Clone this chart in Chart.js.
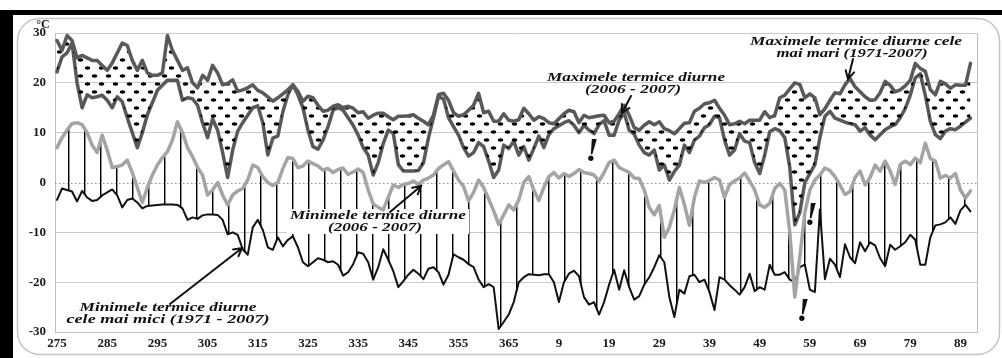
<!DOCTYPE html>
<html>
<head>
<meta charset="utf-8">
<script src="https://cdn.jsdelivr.net/npm/chart.js@4"></script>
<style>
  html, body { margin: 0; padding: 0; background: #fff; }
  #chart { display: block; }
</style>
</head>
<body>
<canvas id="chart" width="1002" height="358"></canvas>
<script>
// day-of-year labels, one every 10 days (275 ... 366, then 1 ... 91)
var tickLabels = ['275', '285', '295', '305', '315', '325', '335', '345', '355', '365',
                  '9', '19', '29', '39', '49', '59', '69', '79', '89'];

// highest daily maxima 1971-2007
var maxRecord = [
  28.5, 26.5, 29.5, 28.5, 25, 25.5, 25, 24.5, 24.5, 23.5,
  22.5, 24, 26, 28, 27.5, 24.5, 22.5, 24.5, 22, 21.5,
  21.5, 22, 29.5, 26.5, 24.5, 22.5, 23, 20, 19, 21.5,
  20.5, 23.5, 22, 19.6, 19.9, 20.6, 18.3, 18.6, 19, 19.6,
  18.5, 18, 17.2, 16.3, 17, 17.8, 18.6, 19.6, 18.3, 16.3,
  17.3, 17, 15.5, 14.3, 14.5, 15.3, 15.6, 15, 15.3, 14.9,
  14, 14.2, 12.9, 13.5, 13.9, 13.9, 13.2, 12.6, 13.3, 13.3,
  13.4, 13.6, 12.9, 12.3, 11.6, 13.5, 17.6, 17.9, 16.5, 14,
  13.3, 13.6, 14.5, 15.5, 17.9, 14, 14.3, 12.3, 12.3, 13.8,
  12.5, 12.3, 12.6, 14.9, 13.8, 12.5, 13.2, 12.8, 12, 11.8,
  12.8, 13.8, 14.5, 14.2, 12, 13.5, 13, 13.2, 13.4, 13.5,
  12, 12.3, 13.8, 15.5, 13.5, 11, 10.5, 11.5, 12.2, 11.6,
  12.2, 10.8, 10.4, 9.8, 10.8, 11.9, 12, 14.3, 14.9, 15.8,
  16, 16.5, 14.9, 13.5, 11.6, 11.8, 12.3, 11.8, 12.5, 12.5,
  12.5, 14.2, 13, 13.5, 17, 17.5, 18.8, 20, 19.7, 17,
  17.8, 17, 13.6, 14.8, 16.5, 18, 17.8, 19.6, 20.9, 19.2,
  18.2, 17.2, 16.5, 16.6, 18, 20.3, 19.5, 18.2, 18.6, 19.4,
  20.5, 23.9, 22.9, 22.3, 18.6, 17.6, 20.3, 19.8, 18.9, 19.6,
  19.5, 19.5, 23.9
];

// daily maxima 2006 - 2007
var maxSeason = [
  22.2, 25.2, 26, 28, 20, 15, 17.6, 17, 17.2, 17.5,
  16.5, 15, 17.2, 16.2, 13, 10, 7, 10, 13.6, 16,
  18.5, 19.5, 20.5, 20.5, 20.5, 16.5, 17, 16.8, 15.5, 12,
  9, 12.8, 10.5, 6, 1, 6.5, 10.3, 12, 13.5, 15,
  15.4, 12, 5.5, 8.9, 9.3, 14.2, 17.6, 19.6, 17.6, 15,
  10.5, 7.2, 6.7, 8.5, 11.2, 14.5, 15, 14.5, 13, 11.5,
  9.5, 7, 5.5, 1.5, 4, 7.8, 10.5, 9.9, 3.6, 2.3,
  2.3, 2.3, 2.4, 3.9, 8.9, 13, 17.2, 16.8, 13, 11.2,
  9.5, 7, 5.3, 6, 8, 7.2, 4.3, 1, 2.5, 7.5,
  6.8, 8.3, 5.5, 7.2, 4.5, 6.8, 9.3, 7, 9.6, 10.8,
  11.4, 12, 12.4, 11.5, 10, 11.5, 10.5, 9.8, 11.6, 12.4,
  9.5, 9.5, 12.5, 14, 10.5, 9.7, 7.5, 6, 5.5, 6.5,
  2.5, 3.5, 0.5, 2.2, 3.5, 7.5, 6, 8.5, 9.3, 11,
  11.6, 13.3, 13, 8.5, 5.5, 6.5, 9.8, 8.3, 8, 4,
  1.8, 5.5, 10.2, 10.8, 10.4, 9, 3, -8.5, -6, 0,
  1.8, 3.6, 9, 13.3, 14.3, 12.9, 12.5, 12.1, 11.8, 11.6,
  10.3, 11, 9.5, 8.6, 9.6, 10.6, 11.2, 11.6, 13, 14.8,
  17.5, 21, 21.8, 17.5, 12.3, 9.6, 8.8, 10.3, 10.8, 10.6,
  11.3, 12.1, 12.9
];

// daily minima 2006 - 2007
var minSeason = [
  7, 9, 10.5, 11.8, 12, 11.6, 10, 7.5, 6, 9.5,
  6.5, 3, 3.2, 3.5, 4.5, 2, -1, -4, -1, 1.5,
  3.5, 5, 6.2, 8.5, 12.2, 10, 7, 5.2, 3, 1.5,
  -2.5, -1.5, 0, -2.5, -4.5, -2.5, -1.7, -1.2, 0.5, 3.5,
  3, 1.2, 0, -0.6, 0, 2.8, 5, 4.8, 3, 3.3,
  4.3, 3.8, 3.3, 2.5, 2.8, 2, 2.6, 2.9, 1.6, 2.1,
  2.7, 2, -1.5, -4.3, -5, -5.5, -3, -0.5, -1, -0.4,
  -0.2, 0.3, -0.4, 0.5, 0.9, 1.5, 2.8, 3.5, 4.2, 2.3,
  0.5, -0.8, -3.7, -2, 0.5, -1, -3.3, -5.7, -8.4, -6.5,
  -4.5, -5.5, -3.5, 0, 1.2, -1.5, -3.6, -1, 1.2, 2,
  0.9, 1.8, 1.2, 1.8, 2.6, 2, 1.8, 1.5, 0.3, 2,
  4, 4.5, 3, 2.5, 2, 0.9, 0.8, -1.5, -5, -6.5,
  -4.6, -11, -9, -5.5, -1, -4.4, -8.6, -3, 0.3, 0,
  0.4, 1, 0.5, -3, -0.4, 0.3, 0.9, 1.9, 0.3, -1.5,
  -4.5, -5, -4.2, -1.2, -0.2, -1.5, -10, -23, -15, -6,
  -1.5, 0.5, 1.5, 2.9, 2.4, 1.2, -0.5, -2.4, -1.8, 1,
  2.3, -0.5, 1, 3.5, 2.3, 4.3, 2.3, -0.4, 3.6, 4.3,
  3.6, 4.9, 4, 7.9, 4.8, 4.3, 0.9, 1.4, 0.9, 1.8,
  -1.5, -3.1, -1.7
];

// lowest daily minima 1971-2007
var minRecord = [
  -3.5, -1.2, -1.5, -1.8, -3.8, -1.7, -3, -3.7, -3.5, -2.6,
  -2, -1.4, -2.6, -5, -3.5, -3.2, -4, -5.2, -4.7, -4.6,
  -4.5, -4.4, -4.4, -4.4, -4.5, -5.2, -7.5, -7, -7.3, -6.6,
  -6.4, -6.4, -6.5, -7.5, -10.4, -10, -10.5, -13.4, -14.5, -9,
  -7.5, -9.5, -13, -13.5, -11, -12.8, -11.5, -10.8, -13, -16,
  -16.8, -16, -15.2, -15.5, -16, -15.8, -16.5, -18.7, -18, -16.4,
  -14, -14.3, -16, -19.5, -17, -13.4, -15.5, -17.8, -21, -19.8,
  -18.5, -17.5, -18.3, -19.4, -17.3, -17, -18, -20.5, -18.5, -14.4,
  -15, -15.5, -16.4, -17, -19.5, -21, -20.4, -21, -29.4, -28,
  -26.5, -24, -20, -19, -18.4, -18.5, -18.6, -18.4, -18.4, -20,
  -24, -20, -18.3, -17.7, -18.8, -23, -24.5, -24, -26.5, -24,
  -20.5, -17.5, -21.5, -17.6, -21, -23.5, -22.8, -20.5, -19, -17,
  -14.6, -16, -23, -27, -21.5, -22.3, -18.8, -18.5, -20, -19.5,
  -22, -25.6, -19, -19.5, -20.6, -21.5, -22.5, -21, -18.3, -21.8,
  -21, -21.5, -16.5, -18.5, -18.5, -18, -19.5, -20, -17, -16.5,
  -21.5, -22, -5.4, -19.4, -15.3, -16.5, -19, -12.4, -15, -16.2,
  -12, -13.8, -12, -12.6, -15.2, -16.8, -12.5, -13.5, -12.8, -12,
  -10.5, -11.5, -16.5, -16.5, -11, -8.6, -8.4, -8, -7, -8.3,
  -5.6, -4.5, -5.8
];

var serif = '"Liberation Serif", "Times New Roman", serif';

// black ellipse dots for the band between the two maxima curves
function dotPattern() {
  var c = document.createElement('canvas');
  c.width = 14; c.height = 16;
  var g = c.getContext('2d');
  g.fillStyle = '#000';
  [[3.5, 4], [10.5, 12]].forEach(function (p) {
    g.beginPath();
    g.ellipse(p[0], p[1], 2.8, 1.7, 0, 0, Math.PI * 2);
    g.fill();
  });
  return g.createPattern(c, 'repeat');
}

// thin vertical hatching for the band between the two minima curves
function stripePattern() {
  var c = document.createElement('canvas');
  c.width = 16; c.height = 4;
  var g = c.getContext('2d');
  g.fillStyle = '#000';
  g.fillRect(4, 0, 1, 4);
  g.fillStyle = 'rgba(0,0,0,0.45)';
  g.fillRect(5, 0, 1, 4);
  return g.createPattern(c, 'repeat');
}

// text squeezed/stretched to a given width, centred on (cx, cy)
function note(ctx, str, cx, cy, w) {
  var m = ctx.measureText(str).width;
  ctx.save();
  ctx.translate(cx, cy);
  ctx.scale(w / m, 1);
  ctx.fillText(str, 0, 0);
  ctx.restore();
}

function arrow(ctx, x1, y1, x2, y2) {
  var a = Math.atan2(y2 - y1, x2 - x1), len = 9, sp = 0.5;
  ctx.beginPath();
  ctx.moveTo(x1, y1);
  ctx.lineTo(x2, y2);
  ctx.moveTo(x2 - len * Math.cos(a - sp), y2 - len * Math.sin(a - sp));
  ctx.lineTo(x2, y2);
  ctx.lineTo(x2 - len * Math.cos(a + sp), y2 - len * Math.sin(a + sp));
  ctx.stroke();
}

var frame = {
  id: 'frame',
  beforeDraw: function (chart) {
    var ctx = chart.ctx;
    ctx.save();
    ctx.fillStyle = '#fff';
    ctx.fillRect(0, 0, chart.width, chart.height);
    // black border on top and left
    ctx.fillStyle = '#000';
    ctx.fillRect(0, 10, 1002, 5);
    ctx.fillRect(0, 10, 13, 348);
    ctx.strokeStyle = '#c4c4c4';
    ctx.lineWidth = 1.5;
    ctx.beginPath();
    ctx.roundRect(17.5, 18.5, 982, 336, 22);
    ctx.stroke();
    ctx.restore();
  },
  beforeDatasetsDraw: function (chart) {
    var ctx = chart.ctx, a = chart.chartArea;
    var y0 = Math.round(chart.scales.y.getPixelForValue(0)) + 0.5;
    ctx.save();
    ctx.strokeStyle = '#c0c0c0';
    ctx.lineWidth = 1;
    ctx.beginPath();
    ctx.moveTo(Math.round(a.right) + 0.5, a.top);
    ctx.lineTo(Math.round(a.right) + 0.5, a.bottom);
    ctx.stroke();
    // dotted zero line
    ctx.strokeStyle = '#8c8c8c';
    ctx.setLineDash([1.5, 2.5]);
    ctx.beginPath();
    ctx.moveTo(a.left, y0);
    ctx.lineTo(a.right, y0);
    ctx.stroke();
    ctx.restore();
  },
  beforeDatasetDraw: function (chart, args) {
    // label background: hides the hatching but stays under the minima curve
    if (args.index !== 2) return;
    var ctx = chart.ctx;
    ctx.save();
    ctx.fillStyle = '#fff';
    ctx.fillRect(287, 209, 182, 25);
    ctx.restore();
  },
  afterDatasetsDraw: function (chart) {
    var ctx = chart.ctx;
    ctx.save();
    ctx.fillStyle = '#111';
    ctx.textAlign = 'center';
    ctx.textBaseline = 'middle';
    ctx.font = 'bold italic 13px ' + serif;
    note(ctx, 'Maximele termice diurne', 636, 78, 178);
    note(ctx, '(2006 - 2007)', 633, 90, 96);
    note(ctx, 'Maximele termice diurne cele', 856, 42, 212);
    note(ctx, 'mai mari (1971-2007)', 852, 53.5, 151);
    note(ctx, 'Minimele termice diurne', 378, 216, 176);
    note(ctx, '(2006 - 2007)', 375, 228, 94);
    note(ctx, 'Minimele termice diurne', 168, 308, 177);
    note(ctx, 'cele mai mici (1971 - 2007)', 168, 320, 203);

    ctx.strokeStyle = '#111';
    ctx.lineWidth = 2;
    ctx.lineCap = 'round';
    arrow(ctx, 631, 96, 622, 113);
    arrow(ctx, 853, 59, 848, 79);
    arrow(ctx, 390, 212, 421, 186);
    arrow(ctx, 170, 304, 242, 248);

    // exclamation marks over the exceptional days
    ctx.textBaseline = 'alphabetic';
    ctx.font = 'bold italic 34px ' + serif;
    ctx.fillText('!', 592, 161);
    ctx.fillText('!', 811, 225);
    ctx.fillText('!', 803, 321);

    ctx.textBaseline = 'middle';
    ctx.font = 'bold 12px ' + serif;
    ctx.fillText('°C', 43, 25);
    ctx.restore();
  }
};

var tickFont = { family: serif, weight: 'bold', size: 13 };

new Chart(document.getElementById('chart'), {
  type: 'line',
  data: {
    labels: maxRecord.map(function (v, i) { return i; }),
    datasets: [
      {
        label: 'Maximele termice diurne cele mai mari (1971-2007)',
        data: maxRecord,
        borderColor: '#595959',
        borderWidth: 3.5,
        backgroundColor: dotPattern(),
        fill: '+1'
      },
      {
        label: 'Maximele termice diurne (2006 - 2007)',
        data: maxSeason,
        borderColor: '#595959',
        borderWidth: 3.5,
        fill: false
      },
      {
        label: 'Minimele termice diurne (2006 - 2007)',
        data: minSeason,
        borderColor: '#a4a4a4',
        borderWidth: 3.5,
        backgroundColor: stripePattern(),
        fill: '+1'
      },
      {
        label: 'Minimele termice diurne cele mai mici (1971 - 2007)',
        data: minRecord,
        borderColor: '#111',
        borderWidth: 2,
        fill: false
      }
    ]
  },
  options: {
    responsive: false,
    animation: false,
    devicePixelRatio: 1,
    layout: { padding: { top: 33, right: 25, left: 0, bottom: 0 } },
    elements: {
      point: { radius: 0 },
      line: { tension: 0, borderJoinStyle: 'round', borderCapStyle: 'round' }
    },
    plugins: {
      legend: { display: false },
      tooltip: { enabled: false }
    },
    scales: {
      x: {
        type: 'linear',
        min: -0.4,
        max: 183.3,
        afterFit: function (s) { s.height = 26; },
        grid: { display: false, drawTicks: false },
        border: { color: '#c0c0c0' },
        ticks: {
          stepSize: 10,
          includeBounds: false,
          autoSkip: false,
          maxTicksLimit: 30,
          maxRotation: 0,
          padding: 4,
          color: '#1a1a1a',
          font: tickFont,
          callback: function (v) { return tickLabels[v / 10]; }
        }
      },
      y: {
        min: -30,
        max: 30,
        afterFit: function (s) { s.width = 55; },
        border: { color: '#c0c0c0' },
        grid: {
          drawTicks: false,
          color: function (c) { return c.tick && c.tick.value === 0 ? 'rgba(0,0,0,0)' : '#cacaca'; }
        },
        ticks: {
          stepSize: 10,
          padding: 9,
          color: '#1a1a1a',
          font: tickFont
        }
      }
    }
  },
  plugins: [frame]
});
</script>
</body>
</html>
